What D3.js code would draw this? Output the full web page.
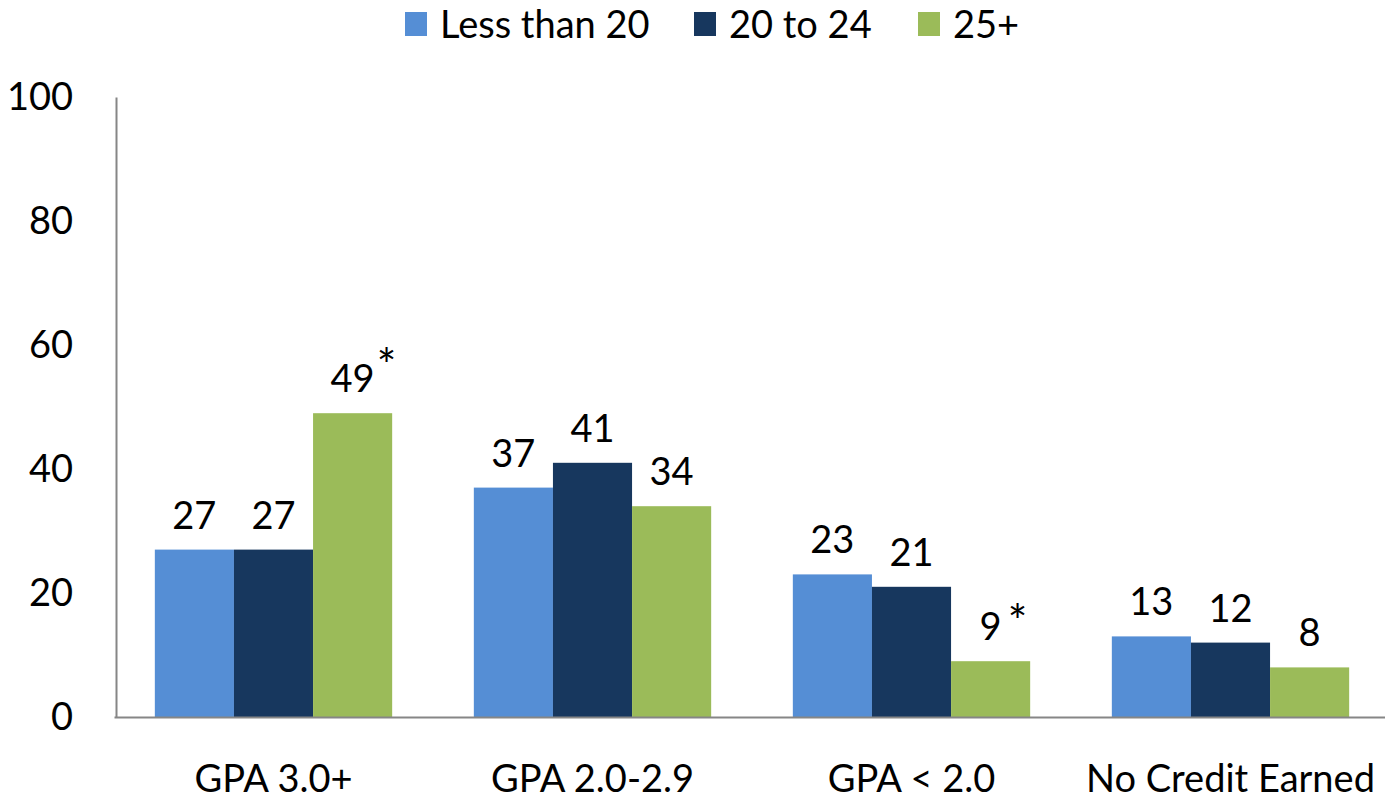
<!DOCTYPE html>
<html>
<head>
<meta charset="utf-8">
<script src="https://cdn.jsdelivr.net/npm/d3@7"></script>
<style>
  html, body { margin: 0; padding: 0; background: #fff; }
  svg { display: block; }
  text { font-family: Lato, "Open Sans", sans-serif; fill: #000; }
</style>
</head>
<body>
<svg id="chart" width="1385" height="804"></svg>
<script>
// Grade groups on the x axis
const categories = ["GPA 3.0+", "GPA 2.0-2.9", "GPA < 2.0", "No Credit Earned"];
// Age groups (series)
const seriesNames = ["Less than 20", "20 to 24", "25+"];
// Percent of students in each grade group, by age group
const lessThan20 = [27, 37, 23, 13];
const age20to24 = [27, 41, 21, 12];
const age25plus = [49, 34, 9, 8];
// Series values flagged as significant (asterisk)
const flagged25plus = [true, false, true, false];
const yTicks = [0, 20, 40, 60, 80, 100];

const colors = ["#558ED5", "#17375E", "#9BBB59"];
const seriesValues = [lessThan20, age20to24, age25plus];
const seriesFlags = [[false, false, false, false], [false, false, false, false], flagged25plus];

const svg = d3.select("#chart");
const margin = { left: 116, right: -5, top: 97, bottom: 87 };
const width = 1385, height = 804;
const fontSize = "38px";

const x0 = d3.scaleBand()
  .domain(categories)
  .range([margin.left - 2, width - margin.right])
  .paddingInner(0.256)
  .paddingOuter(0.128);

const x1 = d3.scaleBand()
  .domain(seriesNames)
  .range([0, x0.bandwidth()]);

const y = d3.scaleLinear()
  .domain([0, 100])
  .range([height - margin.bottom, margin.top]);

const color = d3.scaleOrdinal().domain(seriesNames).range(colors);

// Flatten into records for drawing
const records = [];
categories.forEach((c, i) => {
  seriesNames.forEach((s, j) => {
    records.push({ cat: c, series: s, value: seriesValues[j][i], flag: seriesFlags[j][i], idx: j });
  });
});

// Bars
svg.append("g").selectAll("rect")
  .data(records)
  .join("rect")
  .attr("x", d => x0(d.cat) + x1(d.series))
  .attr("y", d => y(d.value))
  .attr("width", x1.bandwidth())
  .attr("height", d => y(0) - y(d.value))
  .attr("fill", d => color(d.series));

// Value labels
const labels = svg.append("g").selectAll("g.lbl")
  .data(records)
  .join("g")
  .attr("class", "lbl");

labels.append("text")
  .attr("x", d => x0(d.cat) + x1(d.series) + x1.bandwidth() / 2)
  .attr("y", d => y(d.value) - 21)
  .attr("text-anchor", "middle")
  .style("font-size", fontSize)
  .text(d => d.value);

// Asterisks beside flagged values
labels.filter(d => d.flag)
  .append("text")
  .attr("x", d => x0(d.cat) + x1(d.series) + x1.bandwidth() / 2 + (d.value >= 10 ? 34 : 27))
  .attr("y", d => y(d.value) - (d.value >= 10 ? 31 : 23))
  .attr("text-anchor", "middle")
  .style("font-size", "46px")
  .text("*");

// Y axis
const yAxis = d3.axisLeft(y)
  .tickValues(yTicks)
  .tickSize(0)
  .tickPadding(43);
const gy = svg.append("g")
  .attr("transform", `translate(${margin.left},0)`)
  .call(yAxis);
gy.select(".domain").attr("stroke", "#868686").attr("stroke-width", 2);
gy.selectAll(".tick text")
  .style("font-size", fontSize)
  .style("font-family", "Lato, 'Open Sans', sans-serif")
  .attr("fill", "#000");

// X axis
const xAxis = d3.axisBottom(x0).tickSize(0).tickPadding(48);
const gx = svg.append("g")
  .attr("transform", `translate(0,${y(0)})`)
  .call(xAxis);
gx.select(".domain").attr("stroke", "#868686").attr("stroke-width", 2);
gx.selectAll(".tick text")
  .style("font-size", fontSize)
  .style("font-family", "Lato, 'Open Sans', sans-serif")
  .attr("fill", "#000");

// Legend
const legendX = d3.scaleOrdinal().domain(seriesNames).range([405, 694, 918]);
const legend = svg.append("g").selectAll("g")
  .data(seriesNames)
  .join("g")
  .attr("transform", d => `translate(${legendX(d)},12)`);
legend.append("rect")
  .attr("width", 22)
  .attr("height", 24)
  .attr("fill", d => color(d));
legend.append("text")
  .attr("x", 35)
  .attr("y", 26)
  .style("font-size", fontSize)
  .text(d => d);
</script>
</body>
</html>
